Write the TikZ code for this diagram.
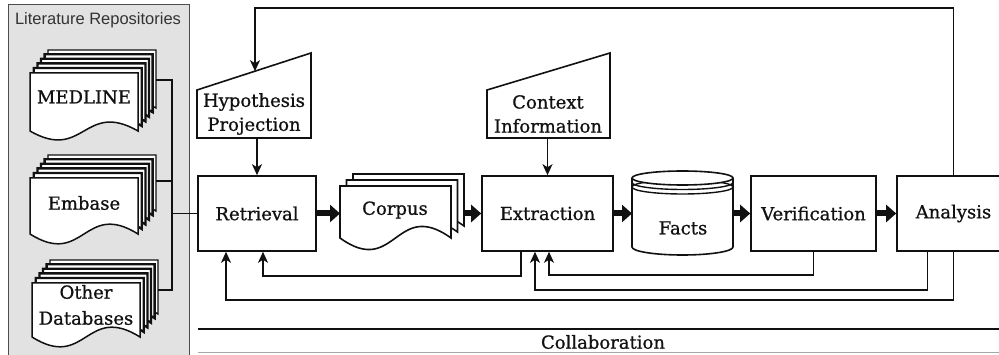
\documentclass[tikz,border=0pt]{standalone}
\usepackage{fontspec}
\setmainfont{DejaVu Serif}[FakeBold=0.8]
\newfontfamily\repsans{Liberation Sans}
\usetikzlibrary{arrows.meta}
\definecolor{panelgray}{HTML}{E2E2E2}
\definecolor{inkc}{HTML}{111111}
\newcommand\docshape[6]{%
  \path[#1] (#2,#3) -- (#4,#3) -- (#4,#5)
    .. controls ({(#2+#4)/2},{#5-#6}) and ({(#2+#4)/2},{#5+#6}) .. (#2,#5) -- cycle;}
\newcommand\docstack[5]{%
  \docshape{draw=inkc, fill=white, line width=1.4pt}{#1+18}{#2-23}{#3+18}{#4-23}{#5}%
  \foreach \dx/\dy in {14.6/18.8, 11/14.2, 7.4/9.6, 3.8/5}{%
    \docshape{draw=inkc, fill=white, line width=2.3pt}{#1+\dx}{#2-\dy}{#3+\dx}{#4-\dy}{#5}}%
  \docshape{draw=inkc, fill=white, line width=1.5pt}{#1}{#2}{#3}{#4}{#5}}
\begin{document}
\begin{tikzpicture}[x=1pt,y=-1pt,
  every node/.style={text=inkc},
  txt/.style={font=\fontsize{18}{24}\selectfont, align=center, inner sep=0pt},
  proc/.style={draw=inkc, line width=1.6pt, fill=white, inner sep=0pt, font=\fontsize{18}{24}\selectfont},
  ghost/.style={inner sep=0pt, outer sep=0pt},
  conn/.style={draw=inkc, line width=1.5pt},
  shp/.style={draw=inkc, line width=1.6pt, fill=white},
  fb/.style={conn, -{Stealth[length=11pt,width=10pt,inset=3pt]}},
  fat/.style={draw=inkc, line width=6pt, -{Triangle[length=10pt,width=17pt]}},
]
\useasboundingbox (0,0) rectangle (999,355);
\clip (0,0) rectangle (999,355);

% repositories panel
\draw[fill=panelgray, draw=black!70, line width=1pt] (8,5) rectangle (189,370);
\node[font=\repsans\fontsize{16.5}{18}\selectfont, text=black!80] (reptitle) at (98,20) {Literature Repositories};

\docstack{30}{73}{138}{131}{31}
\node[txt] (medline) at (84,97) {MEDLINE};
\docstack{30}{178}{138}{234}{34}
\node[txt] (embase) at (84,203) {Embase};
\docstack{32}{283}{140}{337}{34}
\node[txt, font=\fontsize{18}{26}\selectfont] (otherdb) at (86,305) {Other\\Databases};

\coordinate (medout) at (156,80);
\coordinate (embout) at (156,181);
\coordinate (othout) at (158,290);
\coordinate (jtop) at (172,80);
\coordinate (jbot) at (172,290);

% main process boxes
\node[proc, minimum width=118pt, minimum height=75pt] (ret) at (257,213.5) {Retrieval};
\node[proc, minimum width=131pt, minimum height=75pt] (ext) at (547.5,213.5) {Extraction};
\node[proc, minimum width=125pt, minimum height=75pt] (ver) at (813.5,213.5) {Verification};
\node[proc, minimum width=113pt, minimum height=75pt] (ana) at (953.5,213.5) {Analysis};

\draw[conn] (medout) -- (jtop) -- (jbot) -- (othout);
\draw[conn] (embout) -- (embout -| jtop);
\draw[conn] (ret.west -| jtop) -- (ret.west);

% corpus
\docshape{shp}{353}{174}{464}{226}{40}
\docshape{shp}{346.5}{180}{457.5}{232}{40}
\docshape{shp}{340}{186}{451}{238}{40}
\node[txt] (corpustext) at (395,210) {Corpus};
\node[ghost, minimum width=125pt, minimum height=76pt] (corpus) at (402.5,212) {};

% facts cylinder
\draw[shp] (682.5,247) ellipse [x radius=50.5pt, y radius=8pt];
\fill[white] (632,178) rectangle (733,247);
\draw[conn, line width=1.6pt] (632,178) -- (632,247) (733,178) -- (733,247);
\begin{scope}
  \clip (620,182.5) rectangle (745,200);
  \draw[conn, line width=1.4pt] (682.5,182.5) ellipse [x radius=50.5pt, y radius=7pt];
  \draw[conn, line width=1.4pt] (682.5,187) ellipse [x radius=50.5pt, y radius=7pt];
\end{scope}
\draw[shp] (682.5,178) ellipse [x radius=50.5pt, y radius=7pt];
\node[txt] (factstext) at (683,228) {Facts};
\node[ghost, minimum width=101pt, minimum height=84pt] (facts) at (682.5,213) {};

% manual inputs
\draw[shp] (197,90) -- (311,53) -- (311,138) -- (197,138) -- cycle;
\node[txt] (hyptext) at (254,114) {Hypothesis\\Projection};
\node[ghost, minimum width=114pt, minimum height=85pt] (hyp) at (254,95.5) {};
\coordinate (hypin) at (255,71.2);

\draw[shp] (487,90) -- (610,53) -- (610,138) -- (487,138) -- cycle;
\node[txt] (ctxtext) at (548,114) {Context\\Information};
\node[ghost, minimum width=123pt, minimum height=85pt] (ctx) at (548.5,95.5) {};

% thick flow arrows
\draw[fat] (ret.east) -- (ret.east -| corpus.west);
\draw[fat] (corpus.east |- ext.west) -- (ext.west);
\draw[fat] (ext.east) -- (ext.east -| facts.west);
\draw[fat] (facts.east |- ver.west) -- (ver.west);
\draw[fat] (ver.east) -- (ana.west);

% inputs
\draw[fb] (ret.north |- hyp.south) -- (ret.north);
\draw[fb] (ext.north |- ctx.south) -- (ext.north);

% top feedback
\coordinate (topline) at (600,8);
\draw[fb] (ana.north) |- (hypin |- topline) -- (hypin);

% lower feedback
\draw[fb] (ana.south) -- ++(0,48) -| ([xshift=-31pt]ret.south);
\draw[fb] ([xshift=-26.5pt]ext.south) -- ++(0,24) -| ([xshift=6pt]ret.south);
\draw[fb] ([xshift=-26pt]ana.south) -- ++(0,38) -| ([xshift=-12.5pt]ext.south);
\draw[fb] (ver.south) -- ++(0,23) -| ([xshift=1.5pt]ext.south);

% collaboration
\coordinate (collL) at (198,329);
\coordinate (collR) at (1000,329);
\draw[conn] (collL) -- (collR);
\node[txt] (collab) at (603,342) {Collaboration};
\coordinate (lowL) at (198,353);
\coordinate (lowR) at (1000,353);
\draw[black!35, line width=1pt] (lowL) -- (lowR);
\end{tikzpicture}
\end{document}
